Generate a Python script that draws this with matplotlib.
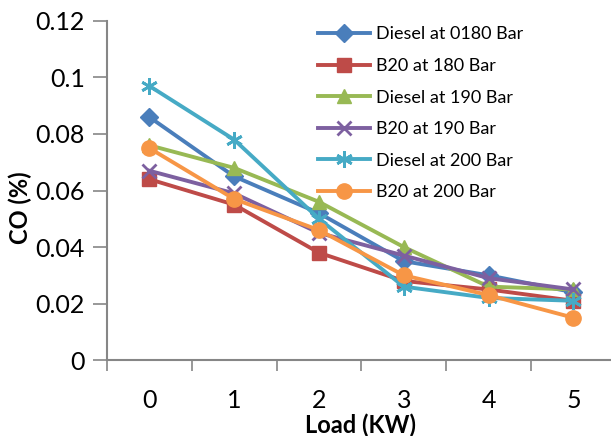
import matplotlib
matplotlib.use("Agg")
import matplotlib.pyplot as plt
import numpy as np

plt.rcParams['font.family'] = ['Lato', 'DejaVu Sans']

loads = [0, 1, 2, 3, 4, 5]
series_names = ["Diesel at 0180 Bar", "B20 at 180 Bar", "Diesel at 190 Bar",
                "B20 at 190 Bar", "Diesel at 200 Bar", "B20 at 200 Bar"]
diesel_180 = [0.086, 0.065, 0.052, 0.035, 0.030, 0.024]
b20_180 = [0.064, 0.055, 0.038, 0.028, 0.025, 0.021]
diesel_190 = [0.076, 0.068, 0.056, 0.040, 0.026, 0.025]
b20_190 = [0.067, 0.059, 0.045, 0.037, 0.029, 0.025]
diesel_200 = [0.097, 0.078, 0.050, 0.026, 0.022, 0.021]
b20_200 = [0.075, 0.057, 0.046, 0.030, 0.023, 0.015]
y_ticks = [0, 0.02, 0.04, 0.06, 0.08, 0.1, 0.12]
y_tick_labels = ["0", "0.02", "0.04", "0.06", "0.08", "0.1", "0.12"]

colors = ["#4A7EBB", "#BE4B48", "#98B954", "#7D60A0", "#46AAC5", "#F79646"]
markers = ["D", "s", "^", "x", "*", "o"]
msizes = [9, 10, 10, 10, 12, 11]

fig = plt.figure(figsize=(6.11, 4.36), dpi=100)
ax = fig.add_axes([0.175, 0.174, 0.833, 0.778])

all_series = [diesel_180, b20_180, diesel_190, b20_190, diesel_200, b20_200]
for name, vals, c, m, ms in zip(series_names, all_series, colors, markers, msizes):
    kw = {}
    if m in ("x", "*"):
        m = "x" if m == "x" else (6, 2, 0)
        kw = dict(markeredgewidth=2)
    ax.plot(loads, vals, color=c, linewidth=2.8, marker=m, markersize=ms,
            markerfacecolor=c, markeredgecolor=c, label=name, **kw)

ax.set_xlim(-0.5, 5.5)
ax.set_ylim(0, 0.12)
ax.set_yticks(y_ticks)
ax.set_yticklabels(y_tick_labels)
ax.set_xticks(loads)
ax.set_xticks(np.arange(-0.5, 5.6, 1), minor=True)
ax.tick_params(axis="x", which="major", length=0, pad=21, labelsize=18)
ax.tick_params(axis="x", which="minor", length=8, width=1.2, color="#868686", direction="out")
ax.tick_params(axis="y", length=10, width=1.2, color="#868686", direction="out", labelsize=18, pad=6)

for s in ["top", "right"]:
    ax.spines[s].set_visible(False)
for s in ["left", "bottom"]:
    ax.spines[s].set_color("#868686")
    ax.spines[s].set_linewidth(1.5)

ax.set_xlabel("Load (KW)", fontsize=17, fontweight="bold")
ax.set_ylabel("CO (%)", fontsize=17, fontweight="bold")
ax.xaxis.set_label_coords(0.499, -0.158)
ax.yaxis.set_label_coords(-0.148, 0.45)

leg = ax.legend(loc="upper left", bbox_to_anchor=(0.40, 1.005), frameon=False,
                fontsize=13, handlelength=2.9, labelspacing=0.86, handletextpad=0.33,
                borderaxespad=0.0)

fig.savefig("out.png", dpi=100)
